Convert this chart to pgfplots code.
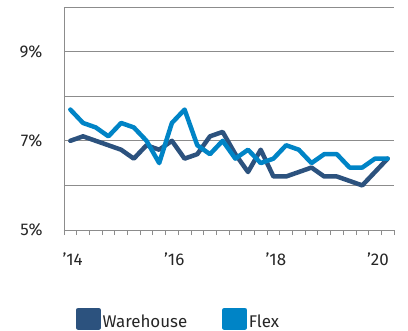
\documentclass[border=0pt]{standalone}
\usepackage{fontspec}
\setmainfont{Fira Sans}
\usepackage{pgfplots}
\pgfplotsset{compat=1.18}
\definecolor{whcol}{RGB}{44,82,126}
\definecolor{flexcol}{RGB}{0,132,198}
\definecolor{gridgray}{RGB}{140,140,140}
\begin{document}
\begin{tikzpicture}
\begin{axis}[
  scale only axis,
  width=330bp, height=223bp,
  xmin=-0.5, xmax=25.5,
  ymin=5, ymax=10,
  axis x line*=bottom,
  axis y line*=left,
  axis line style={gridgray, line width=0.8bp},
  ytick={5,6,7,8,9,10},
  yticklabels={5\%,,7\%,,9\%,},
  ymajorgrids,
  grid style={gridgray, line width=0.8bp},
  y tick style={draw=none},
  yticklabel style={xshift=-13bp},
  xtick={-0.5,0.5,...,25.5},
  xticklabels={},
  x tick style={gridgray, line width=0.8bp},
  tick align=outside,
  major tick length=5bp,
  extra x ticks={-0.5,7.5,15.5,23.5},
  extra x tick labels={'14,'16,'18,'20},
  extra x tick style={
    major tick length=0bp,
    xticklabel style={anchor=north west, xshift=-5bp, yshift=-19bp}},
  tick label style={font=\fontsize{17}{20}\selectfont, text=black!85},
  clip=false,
  legend columns=2,
  legend style={
    at={(0.036,-0.40)}, anchor=west,
    draw=none, fill=none, inner sep=0pt,
    font=\fontsize{17}{20}\selectfont, text=black!85,
    /tikz/every even column/.append style={column sep=33bp}},
  legend cell align=left,
  legend image code/.code={\fill[#1] (0bp,-6bp) rectangle (20bp,12bp);},
]
% Warehouse cap rate, quarterly 2014 Q1 - 2020 Q2
\addplot[color=whcol, line width=4.5bp, line join=round, line cap=round]
  coordinates {
  (0,7.0) (1,7.1) (2,7.0) (3,6.9) (4,6.8) (5,6.6) (6,6.9) (7,6.8)
  (8,7.0) (9,6.6) (10,6.7) (11,7.1) (12,7.2) (13,6.7) (14,6.3) (15,6.8)
  (16,6.2) (17,6.2) (18,6.3) (19,6.4) (20,6.2) (21,6.2) (22,6.1) (23,6.0)
  (24,6.3) (25,6.6)};
\addlegendentry{Warehouse}
% Flex cap rate
\addplot[color=flexcol, line width=4.5bp, line join=round, line cap=round]
  coordinates {
  (0,7.7) (1,7.4) (2,7.3) (3,7.1) (4,7.4) (5,7.3) (6,7.0) (7,6.5)
  (8,7.4) (9,7.7) (10,6.9) (11,6.7) (12,7.0) (13,6.6) (14,6.8) (15,6.5)
  (16,6.6) (17,6.9) (18,6.8) (19,6.5) (20,6.7) (21,6.7) (22,6.4) (23,6.4)
  (24,6.6) (25,6.6)};
\addlegendentry{Flex}
\end{axis}
\pgfresetboundingbox
\path (current axis.south west) ++(-64bp,-101bp) rectangle ++(408bp,331bp);
\end{tikzpicture}
\end{document}
